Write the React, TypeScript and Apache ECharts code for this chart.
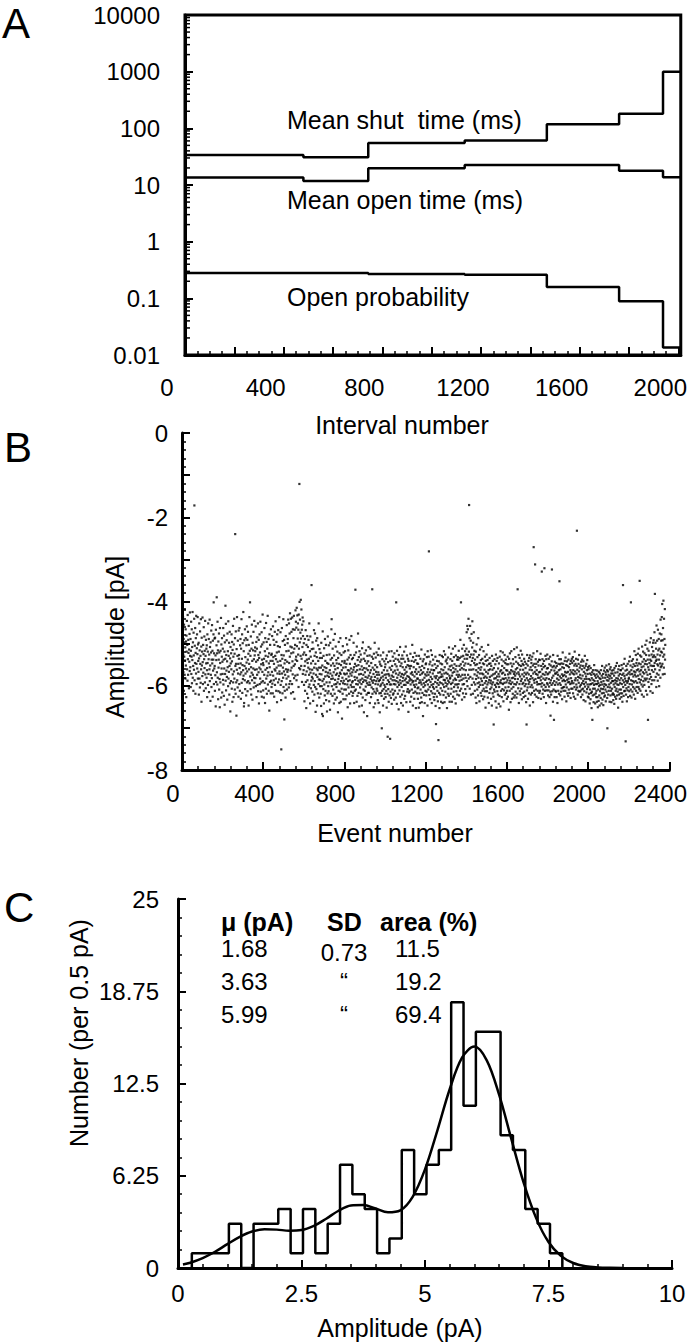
import React, { useEffect, useRef } from 'react';
import * as echarts from 'echarts';

const FONT = '"Liberation Sans", Arial, Helvetica, sans-serif';

// ---------- Panel A ----------
const A_X_LABELS = [0, 400, 800, 1200, 1600, 2000];
const A_Y_LABELS = ['0.01', '0.1', '1', '10', '100', '1000', '10000'];
const SHUT_EDGES = [0, 480, 743, 1134, 1467, 1760, 1938, 2010];
const SHUT_TIME = [34, 31, 55, 61, 118, 180, 1000];
const OPEN_EDGES = [0, 480, 743, 1134, 1467, 1760, 1938, 2010];
const OPEN_TIME = [13.5, 11.8, 19.7, 22.5, 22.5, 17.9, 13.7];
const PO_EDGES = [0, 743, 1134, 1467, 1760, 1938, 2010];
const OPEN_PROB = [0.28, 0.27, 0.26, 0.158, 0.089, 0.0135];
const A_TEXTS = ['Mean shut  time (ms)', 'Mean open time (ms)', 'Open probability'];

// ---------- Panel B ----------
// amplitude codes: value = -code / 100 (pA), one per event
const B_AMP_ROWS = [
  '472 548 503 591 437 526 568 489 612 455 531 497 574 418 540 509 583 466 552 495 627 481 519 446 561 503 588 432 537 574 491 522 458 606 514 543 477 565 426 529',
  '556 489 603 517 448 572 531 466 594 508 539 425 581 497 553 612 474 528 562 441 172 587 505 546 463 619 522 487 571 434 548 596 511 478 559 525 437 583 502 541',
  '567 498 621 535 452 583 516 604 471 548 529 593 442 561 507 638 486 552 519 577 438 544 596 503 569 525 461 612 537 483 558 517 592 446 573 529 606 491 547 512',
  '581 504 563 627 478 546 519 598 452 572 537 489 615 526 561 443 589 508 552 636 497 574 521 469 603 538 582 456 547 517 626 493 564 538 478 402 596 523 559 488',
  '553 612 486 575 528 649 467 591 539 504 390 568 523 597 448 581 516 632 495 557 538 476 609 521 584 651 463 546 592 517 573 439 628 502 559 531 487 616 543 572',
  '512 586 463 597 538 624 481 559 519 645 497 572 536 410 588 453 611 527 564 492 579 542 633 476 556 518 601 447 583 529 567 498 621 553 472 594 535 661 508 547',
  '589 523 561 478 607 542 496 638 515 573 458 592 531 627 502 566 441 583 524 609 487 240 553 619 471 548 592 671 513 562 437 587 529 604 493 571 548 626 469 536',
  '527 596 463 558 612 504 573 489 547 631 512 568 442 593 536 478 617 551 499 584 563 425 576 518 649 641 492 553 587 466 608 532 571 487 559 623 504 545 459 592',
  '566 491 613 538 472 589 524 647 503 561 548 437 594 517 402 578 529 608 483 556 621 512 569 455 587 541 633 498 574 516 559 472 604 537 581 446 593 528 562 509',
  '518 582 459 601 543 496 627 561 512 574 485 598 539 452 613 527 568 491 642 534 557 478 596 521 583 448 561 614 507 549 592 473 626 538 502 567 431 589 546 611',
  '551 497 628 536 574 463 593 518 641 487 562 529 607 451 583 542 496 619 558 512 576 434 597 531 568 489 612 547 523 659 478 556 591 503 574 541 618 466 588 527',
  '603 524 567 482 595 541 618 459 576 532 491 587 548 626 503 561 472 598 529 564 447 583 537 612 496 557 521 639 478 571 543 506 592 468 613 552 519 585 437 566',
  '572 508 616 541 473 598 552 634 751 527 589 463 571 536 618 494 557 581 442 603 528 566 491 680 547 612 503 574 539 628 482 561 597 518 583 456 609 543 567 499',
  '489 562 443 578 517 604 452 546 596 476 531 428 589 507 564 441 618 523 472 557 509 596 438 542 573 466 615 521 487 553 434 582 512 631 467 549 503 576 421 538',
  '448 531 462 587 415 506 541 433 574 488 452 526 467 603 431 512 558 121 401 497 443 561 474 529 396 488 553 419 536 467 591 455 508 438 572 482 526 447 563 499',
  '598 521 637 553 489 612 542 574 468 591 527 653 503 566 538 619 482 587 546 508 629 557 491 603 536 574 452 597 561 518 642 483 569 531 606 547 588 361 513 579',
  '562 614 497 583 541 636 512 571 598 468 557 621 529 589 476 603 548 662 521 574 493 608 559 532 647 487 579 563 618 504 541 596 452 585 557 628 513 572 534 601',
  '586 522 619 557 648 498 573 601 534 667 552 589 471 672 563 608 529 584 642 511 597 556 623 489 578 541 612 567 503 634 558 592 527 661 546 576 618 483 569 601',
  '548 613 504 579 637 526 592 563 657 498 571 538 619 552 584 466 442 601 534 576 624 512 583 547 609 491 568 642 528 597 553 619 477 586 561 633 507 574 596 539',
  '603 547 628 571 519 592 558 663 534 584 612 496 577 548 641 523 596 569 614 487 572 638 551 589 527 607 563 678 542 581 619 506 594 557 632 521 588 571 609 546',
  '541 596 518 573 632 556 609 487 584 548 623 571 502 597 538 651 563 589 516 604 578 533 619 564 491 587 548 642 571 527 598 559 614 482 576 603 537 592 568 624',
  '589 534 617 562 498 603 556 641 527 579 612 548 586 372 567 609 521 596 553 638 507 581 563 624 539 597 476 588 551 617 532 573 649 518 592 561 604 543 586 526',
  '572 619 538 596 554 647 511 583 562 628 497 591 574 609 536 663 558 587 523 612 568 541 634 579 602 516 588 559 621 547 594 672 529 581 563 617 542 598 508 576',
  '617 553 592 528 641 569 598 512 584 563 627 546 579 604 531 588 371 619 557 593 536 608 572 651 524 587 562 614 498 579 642 551 596 533 618 567 589 521 607 574',
  '556 612 583 634 527 597 568 641 512 589 574 618 543 663 586 549 601 528 617 581 597 553 624 701 569 612 537 593 578 647 521 586 608 563 631 542 598 574 619 556',
  '603 549 627 581 536 612 573 652 528 596 564 619 721 587 544 608 572 638 519 591 576 623 557 597 726 541 614 583 629 562 597 518 643 576 553 609 587 531 621 568',
  '579 618 541 596 633 523 587 564 612 549 597 536 628 571 402 589 554 643 517 581 603 562 619 538 592 574 656 527 598 543 611 569 587 508 626 553 594 578 641 536',
  '547 603 572 621 528 589 556 647 581 536 613 574 598 519 631 562 587 543 624 571 598 507 583 556 639 567 592 528 614 577 551 608 536 593 662 541 579 616 553 588',
  '612 559 583 638 524 597 571 553 626 586 541 609 568 503 592 574 647 532 589 617 556 598 543 631 578 522 603 567 614 539 588 653 561 597 529 572 618 547 583 606',
  '583 631 548 604 567 652 529 593 618 556 587 641 574 536 609 592 563 628 514 597 639 571 553 617 586 542 672 568 603 537 594 622 558 581 641 526 599 573 612 549',
  '591 547 623 576 614 532 588 568 647 518 597 561 609 574 531 281 586 622 549 603 568 632 543 591 579 516 613 562 598 641 527 584 552 618 571 603 538 596 563 627',
  '607 563 634 578 549 619 591 531 648 582 691 558 603 577 626 541 594 612 553 637 586 569 729 598 542 617 581 653 527 592 568 621 547 606 579 638 561 594 573 529',
  '549 612 578 641 532 597 563 622 586 518 603 571 639 556 587 526 614 593 542 628 569 601 538 582 653 547 596 572 619 533 588 607 561 624 509 592 576 638 554 583',
  '581 537 619 563 596 524 607 552 638 576 541 593 569 512 626 558 587 614 532 603 567 549 631 583 506 597 561 642 528 586 613 553 574 597 538 621 566 532 604 579',
  '538 596 517 574 623 553 588 534 612 562 491 578 549 402 607 531 586 558 633 512 574 597 543 618 529 583 561 503 596 552 627 536 574 518 608 547 581 563 619 526',
  '512 473 589 536 458 601 527 466 574 548 441 583 519 171 562 487 607 532 458 579 551 493 621 526 562 477 598 541 509 447 583 534 619 498 561 526 473 592 546 517',
  '573 612 538 597 551 628 519 584 563 641 502 576 549 609 532 594 568 623 487 581 558 603 527 592 637 546 571 514 598 562 617 539 583 556 624 508 589 571 536 612',
  '598 547 632 573 518 607 581 549 626 562 594 531 613 578 652 541 589 567 604 526 581 613 552 597 539 628 571 503 592 563 641 548 586 617 534 579 561 608 547 594',
  '588 631 553 604 576 647 529 597 562 618 541 592 573 626 692 558 609 583 537 614 571 598 549 637 582 526 603 567 652 541 594 578 613 534 587 621 559 596 572 643',
  '547 603 578 624 531 592 566 649 518 587 612 563 594 538 627 571 553 608 583 521 596 569 637 542 584 611 558 593 527 621 574 546 604 582 538 617 563 592 549 631',
  '612 564 587 531 626 573 549 603 581 657 536 594 568 612 523 588 571 639 547 596 563 518 607 582 631 554 592 566 619 537 581 603 548 628 572 513 596 567 623 584',
  '576 532 614 561 597 543 628 571 509 592 558 619 371 584 547 606 568 527 641 573 551 596 534 613 578 562 621 517 589 553 607 541 584 632 526 573 596 548 617 562',
  '593 551 627 578 536 614 569 601 543 587 624 558 596 573 639 548 692 582 611 527 569 604 552 631 587 541 596 573 618 534 591 562 647 528 584 603 556 621 577 538',
  '546 598 563 617 531 582 604 552 639 571 523 271 587 612 548 593 567 621 312 556 584 537 609 572 548 626 563 591 518 597 574 612 543 581 629 552 596 568 538 617',
  '581 539 612 567 596 524 587 631 553 578 602 329 561 594 537 619 572 548 609 583 556 627 541 598 321 574 612 553 586 529 603 568 641 537 582 611 559 594 526 573',
  '597 558 623 571 611 536 584 602 549 627 568 593 531 614 671 552 587 621 563 598 542 324 581 613 556 594 638 527 576 609 553 681 589 564 627 543 598 571 612 557',
  '571 614 546 592 627 553 583 568 641 529 597 574 612 548 586 563 619 537 352 594 578 549 623 561 598 537 614 582 547 606 573 632 556 589 521 604 577 548 612 586',
  '558 603 574 626 541 589 567 612 533 597 578 551 637 569 604 542 586 618 553 592 567 624 538 583 609 556 591 524 617 573 548 596 563 629 541 582 607 568 594 536',
  '589 546 607 571 532 618 563 594 541 626 573 552 603 519 587 566 631 548 582 609 536 597 571 553 232 604 562 587 621 538 579 612 548 593 566 527 614 581 557 602',
  '574 613 552 598 627 543 583 609 561 594 538 621 576 553 607 589 542 634 567 596 613 558 584 529 602 571 637 553 592 578 548 616 584 563 608 539 597 572 626 556',
  '603 561 628 584 619 553 597 642 571 609 587 632 558 596 617 574 653 582 614 568 681 594 623 563 607 586 639 572 598 551 621 589 607 576 642 563 596 618 581 627',
  '612 573 638 596 564 627 589 651 578 609 594 636 567 601 623 582 647 571 613 598 584 629 563 607 591 642 576 618 553 597 633 581 608 572 646 589 617 564 602 626',
  '596 557 623 581 609 568 637 574 598 552 614 587 563 629 701 579 603 566 621 588 574 612 549 597 583 638 561 604 577 623 556 593 612 571 639 582 564 607 589 621',
  '571 618 589 634 563 597 621 576 643 558 603 587 626 569 594 612 553 631 582 607 589 546 623 597 568 614 583 652 561 598 576 621 553 609 587 631 572 594 618 563',
  '563 609 582 627 551 596 618 574 638 559 587 361 603 571 624 548 592 613 577 536 612 583 598 564 732 589 621 553 606 574 637 562 593 611 548 589 627 571 603 584',
  '581 542 613 567 596 531 624 573 552 609 402 587 563 628 541 597 572 614 556 589 537 603 578 549 621 566 592 518 607 574 553 631 568 589 527 612 578 546 603 563',
  '538 593 552 617 524 576 561 603 512 584 547 608 566 351 592 528 573 612 549 586 563 531 597 556 621 507 578 543 602 568 519 589 554 626 537 571 598 523 583 548',
  '562 503 587 541 612 527 568 493 583 549 621 512 574 538 681 556 591 517 562 603 528 546 584 497 572 538 613 552 487 579 541 596 526 563 508 587 553 617 532 498',
  '518 567 492 553 528 587 473 546 382 561 532 498 579 541 512 603 457 538 571 493 549 526 588 467 552 516 574 489 538 601 512 563 476 547 528 581 443 556 519 493',
  '478 553 437 521 406 548 492 573 463 531 398 512 557 441 526 489 572 418 538 503',
];
const B_AMPLITUDE = B_AMP_ROWS.join(' ').trim().split(/\s+/).map((s) => -Number(s) / 100);
const B_EVENTS = B_AMPLITUDE.map((_, i) => i + 1);
const B_X_LABELS = [0, 400, 800, 1200, 1600, 2000, 2400];
const B_Y_LABELS = [0, -2, -4, -6, -8];

// ---------- Panel C ----------
const HIST_START = 0.28;
const HIST_BIN = 0.25;
const HIST_COUNTS = [1, 1, 1, 3, 0, 3, 3, 4, 1, 4, 1, 3, 7, 5, 4, 1, 2, 8, 5, 7, 8, 18, 11, 16, 16, 9, 8, 4, 3, 1];
const FIT_X = [0.1, 0.25, 0.5, 0.75, 1.0, 1.25, 1.5, 1.75, 2.0, 2.25, 2.5, 2.75, 3.0, 3.25, 3.5, 3.75, 4.0, 4.25, 4.5, 4.75, 5.0, 5.25, 5.5, 5.75, 6.0, 6.25, 6.5, 6.75, 7.0, 7.25, 7.5, 7.75, 8.0, 8.25, 8.5, 8.75, 9.0];
const FIT_Y = [0.24, 0.36, 0.67, 1.1, 1.62, 2.11, 2.47, 2.62, 2.6, 2.53, 2.57, 2.85, 3.34, 3.88, 4.24, 4.27, 4.03, 3.77, 3.9, 4.82, 6.68, 9.31, 12.11, 14.25, 15.0, 14.07, 11.74, 8.71, 5.75, 3.38, 1.76, 0.82, 0.34, 0.12, 0.04, 0.01, 0.0];
const TABLE_HEAD = ['μ (pA)', 'SD', 'area (%)'];
const FIT_MU = ['1.68', '3.63', '5.99'];
const FIT_SD = ['0.73', '“', '“'];
const FIT_AREA = ['11.5', '19.2', '69.4'];

function stepData(edges: number[], vals: number[]) {
  return edges.map((e, i) => [e, vals[Math.min(i, vals.length - 1)]]);
}

function histData() {
  const pts: number[][] = [[HIST_START, 0]];
  HIST_COUNTS.forEach((c, i) => pts.push([HIST_START + (i + 1) * HIST_BIN, c]));
  pts.push([HIST_START + HIST_COUNTS.length * HIST_BIN, 0]);
  return pts;
}

const logMinor: number[][] = [];
for (let e = -2; e < 4; e++) {
  for (let m = 2; m <= 9; m++) logMinor.push([0, m * Math.pow(10, e)]);
}

const axisLine = { show: true, onZero: false, lineStyle: { color: '#000', width: 3 } };
const tick = (len: number) => ({ show: true, inside: true, length: len, lineStyle: { color: '#000', width: 2 } });
const minor = (n: number, len: number) => ({ show: true, splitNumber: n, length: len, lineStyle: { color: '#000', width: 1.5 } });
const lbl = { color: '#000', fontSize: 24, fontFamily: FONT };

function txt(text: string, x: number, y: number, size: number, opts: any = {}) {
  return {
    type: 'text',
    x,
    y,
    rotation: opts.rotation || 0,
    style: {
      text,
      fill: '#000',
      fontSize: size,
      fontFamily: FONT,
      fontWeight: opts.bold ? 'bold' : 'normal',
      align: opts.align || 'left',
      verticalAlign: 'middle',
      lineHeight: opts.lineHeight || undefined,
    },
  };
}

export default function App() {
  const ref = useRef<HTMLDivElement>(null);
  useEffect(() => {
    document.body.style.margin = '0';
    if (!ref.current) return;
    const chart = echarts.init(ref.current, null, { renderer: 'svg' });
    const lineStyle = { color: '#000', width: 2.5 };
    const option: any = {
      animation: false,
      backgroundColor: '#fff',
      grid: [
        { left: 185, top: 15, width: 499, height: 340, show: true, borderColor: '#000', borderWidth: 3, backgroundColor: 'transparent' },
        { left: 182, top: 433, width: 492, height: 337 },
        { left: 178, top: 899, width: 494, height: 369 },
      ],
      xAxis: [
        {
          gridIndex: 0, type: 'value', min: 0, max: 2010, interval: 200,
          axisLine, axisTick: tick(8), minorTick: minor(4, 4), splitLine: { show: false },
          axisLabel: { ...lbl, margin: 20, padding: [0, 36, 0, 0], formatter: (v: number) => (A_X_LABELS.includes(v) ? String(v) : '') },
        },
        {
          gridIndex: 1, type: 'value', min: 0, max: 2400, interval: 400,
          axisLine, axisTick: tick(8), minorTick: minor(5, 4), splitLine: { show: false },
          axisLabel: { ...lbl, margin: 11, padding: [0, 18, 0, 0], formatter: (v: number) => (B_X_LABELS.includes(v) ? String(v) : '') },
        },
        {
          gridIndex: 2, type: 'value', min: 0, max: 10, interval: 2.5,
          axisLine, axisTick: tick(8), minorTick: minor(5, 4), splitLine: { show: false },
          axisLabel: { ...lbl, margin: 13 },
        },
      ],
      yAxis: [
        {
          gridIndex: 0, type: 'log', logBase: 10, min: 0.01, max: 10000, splitNumber: 6,
          axisLine, axisTick: tick(8), splitLine: { show: false },
          axisLabel: {
            ...lbl, margin: 25,
            formatter: (v: number) => {
              const f = A_Y_LABELS.find((t) => Math.abs(Math.log10(Number(t)) - Math.log10(v)) < 1e-6);
              return f ?? '';
            },
          },
        },
        {
          gridIndex: 1, type: 'value', min: -8, max: 0, interval: 1,
          axisLine, axisTick: tick(8), minorTick: minor(5, 4), splitLine: { show: false },
          axisLabel: { ...lbl, margin: 14, formatter: (v: number) => (B_Y_LABELS.includes(v) ? String(v) : '') },
        },
        {
          gridIndex: 2, type: 'value', min: 0, max: 25, interval: 6.25,
          axisLine, axisTick: tick(8), minorTick: minor(5, 4), splitLine: { show: false },
          axisLabel: { ...lbl, margin: 19 },
        },
      ],
      series: [
        {
          type: 'custom', xAxisIndex: 0, yAxisIndex: 0, data: logMinor, silent: true,
          renderItem: (_p: any, api: any) => {
            const p = api.coord([api.value(0), api.value(1)]);
            return { type: 'line', shape: { x1: p[0], y1: p[1], x2: p[0] + 5, y2: p[1] }, style: { stroke: '#000', lineWidth: 1.5 } };
          },
        },
        { type: 'line', name: 'shut', xAxisIndex: 0, yAxisIndex: 0, step: 'end', symbol: 'none', lineStyle, data: stepData(SHUT_EDGES, SHUT_TIME) },
        { type: 'line', name: 'open', xAxisIndex: 0, yAxisIndex: 0, step: 'end', symbol: 'none', lineStyle, data: stepData(OPEN_EDGES, OPEN_TIME) },
        { type: 'line', name: 'po', xAxisIndex: 0, yAxisIndex: 0, step: 'end', symbol: 'none', lineStyle, data: stepData(PO_EDGES, OPEN_PROB) },
        {
          type: 'scatter', xAxisIndex: 1, yAxisIndex: 1, symbol: 'rect', symbolSize: 2.2,
          itemStyle: { color: '#000' }, data: B_EVENTS.map((e, i) => [e, B_AMPLITUDE[i]]),
        },
        { type: 'line', xAxisIndex: 2, yAxisIndex: 2, step: 'start', symbol: 'none', lineStyle, data: histData() },
        { type: 'line', xAxisIndex: 2, yAxisIndex: 2, smooth: 0.35, symbol: 'none', lineStyle, data: FIT_X.map((x, i) => [x, FIT_Y[i]]) },
      ],
      graphic: [
        txt('A', 2, 23, 42, { lineHeight: 34 }),
        txt('B', 4, 447, 42, { lineHeight: 34 }),
        txt('C', 4, 907, 42, { lineHeight: 34 }),
        txt(A_TEXTS[0], 287, 120, 25),
        txt(A_TEXTS[1], 287, 200, 25),
        txt(A_TEXTS[2], 287, 297, 25),
        txt('Interval number', 402, 425, 25, { align: 'center' }),
        txt('Amplitude [pA]', 115, 637, 25, { align: 'center', rotation: Math.PI / 2 }),
        txt('Event number', 395, 833, 25, { align: 'center' }),
        txt('Number (per 0.5 pA)', 79, 1033, 25, { align: 'center', rotation: Math.PI / 2 }),
        txt('Amplitude (pA)', 400, 1328, 25, { align: 'center' }),
        txt(TABLE_HEAD[0], 221, 922, 25, { bold: true }),
        txt(TABLE_HEAD[1], 327, 922, 25, { bold: true }),
        txt(TABLE_HEAD[2], 380, 922, 25, { bold: true }),
        ...FIT_MU.map((t, i) => txt(t, 221, 948 + i * 33, 24)),
        ...FIT_SD.map((t, i) => txt(t, 344, i === 0 ? 952 : 948 + i * 33, 24, { align: 'center' })),
        ...FIT_AREA.map((t, i) => txt(t, 395, 948 + i * 33, 24)),
      ],
    };
    chart.setOption(option);
    return () => chart.dispose();
  }, []);
  return <div ref={ref} style={{ width: 690, height: 1344 }} />;
}
